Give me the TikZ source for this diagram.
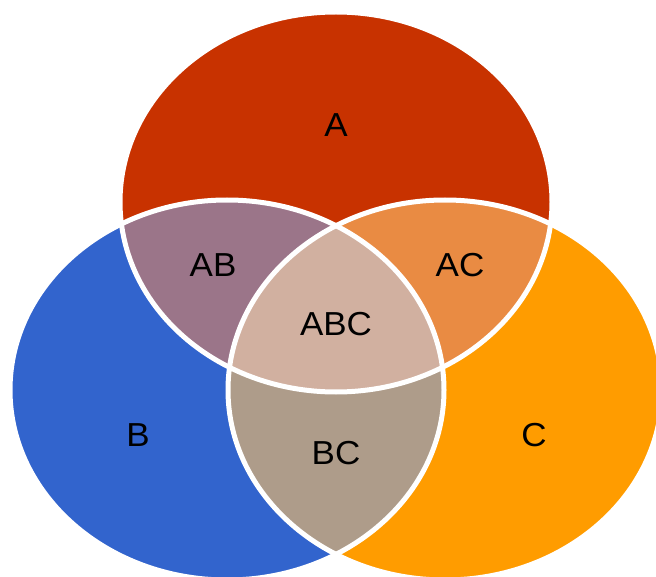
\documentclass[tikz,border=0pt]{standalone}
\usepackage{fontspec}
\setmainfont{Liberation Sans}
\definecolor{cA}{RGB}{200,50,0}
\definecolor{cB}{RGB}{50,100,205}
\definecolor{cC}{RGB}{255,156,0}
\definecolor{cAB}{RGB}{155,117,137}
\definecolor{cAC}{RGB}{233,139,67}
\definecolor{cBC}{RGB}{174,156,138}
\definecolor{cABC}{RGB}{209,176,160}
\begin{document}
\begin{tikzpicture}[x=1pt,y=-1pt,
  lbl/.style={font=\fontsize{35}{40}\selectfont, text=black, inner sep=0pt, yscale=0.95},
  edge/.style={draw=white, line width=5pt}]
\useasboundingbox (0,0) rectangle (656,577);
\def\ellA{(336,202) ellipse [x radius=216pt, y radius=190pt]}
\def\ellB{(227,390) ellipse [x radius=217pt, y radius=190pt]}
\def\ellC{(445,390) ellipse [x radius=217pt, y radius=190pt]}
\begin{scope}
\clip (0,0) rectangle (656,577);
\fill[cB] \ellB;
\fill[cC] \ellC;
\fill[cA] \ellA;
\begin{scope}\clip \ellA; \fill[cAB] \ellB; \end{scope}
\begin{scope}\clip \ellA; \fill[cAC] \ellC; \end{scope}
\begin{scope}\clip \ellB; \fill[cBC] \ellC; \end{scope}
\begin{scope}\clip \ellA; \clip \ellB; \fill[cABC] \ellC; \end{scope}
\draw[edge] \ellA;
\draw[edge] \ellB;
\draw[edge] \ellC;
\end{scope}
\node[lbl] (a) at (336,125) {A};
\node[lbl] (ab) at (213,265) {AB};
\node[lbl] (ac) at (460,265) {AC};
\node[lbl] (abc) at (336,324) {ABC};
\node[lbl] (b) at (138,435) {B};
\node[lbl] (c) at (534,435) {C};
\node[lbl] (bc) at (336,453) {BC};
\end{tikzpicture}
\end{document}
